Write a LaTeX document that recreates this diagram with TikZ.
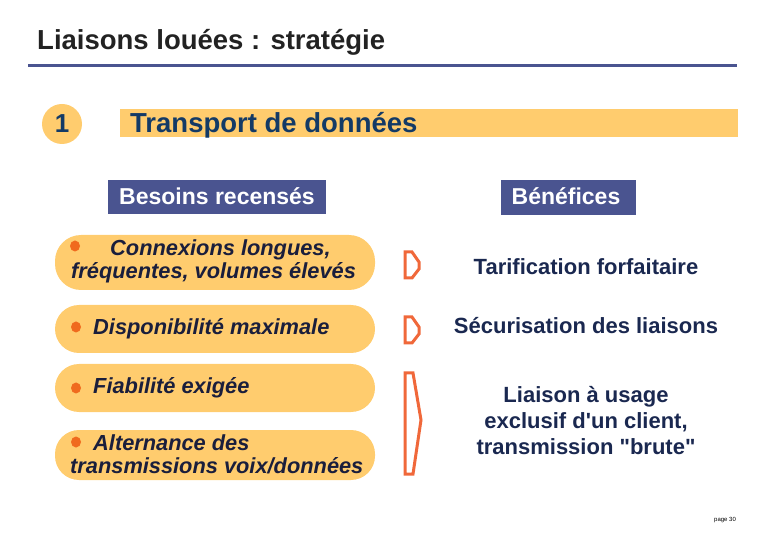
\documentclass[tikz,border=0pt]{standalone}
\usepackage{fontspec}
\setmainfont{Liberation Sans}
\font\qfont="Liberation Sans/B" at 22pt
\newcommand{\sq}{{\qfont\char39}}
\newcommand{\dq}{{\qfont\char34}}
\definecolor{pillc}{HTML}{FFCC6E}
\definecolor{navy}{HTML}{4A5490}
\definecolor{dtext}{HTML}{1A1E3C}
\definecolor{btext}{HTML}{133A66}
\definecolor{dotc}{HTML}{F06A1E}
\definecolor{dshape}{HTML}{F0683A}
\definecolor{titlec}{HTML}{222222}
\definecolor{rtext}{HTML}{1A2850}
\tikzset{
  hdrtext/.style={anchor=base, inner sep=0pt, text=white, font=\fontsize{23}{26}\selectfont\bfseries},
  pilltext/.style={anchor=base west, inner sep=0pt, text=dtext, font=\fontsize{21.8}{24}\selectfont\bfseries\itshape},
  dshp/.style={draw=dshape, line width=3pt, line join=miter},
  righttext/.style={align=center, text=rtext, font=\fontsize{22}{26}\selectfont\bfseries, inner sep=0pt}
}
\begin{document}
\begin{tikzpicture}[x=1pt,y=-1pt]
\useasboundingbox (0,0) rectangle (780,540);
% title
\node[anchor=base west, inner sep=0pt, text=titlec, font=\fontsize{27.5}{30}\selectfont\bfseries] (title) at (37,50) {Liaisons louées : stratégie};
\draw[navy, line width=3pt] (28,66) coordinate (la) -- (737,66) coordinate (lb);
% section 1
\node[circle, fill=pillc, minimum size=40pt, inner sep=0pt, text=btext, font=\fontsize{26}{28}\selectfont\bfseries] (one) at (62,124) {1};
\fill[pillc] (120,109) rectangle (738,137);
\node[anchor=base west, inner sep=0pt, text=btext, font=\fontsize{27.5}{30}\selectfont\bfseries] (sect) at (130,133) {Transport de données};
% headers
\fill[navy] (108,180) rectangle (326,214);
\node[hdrtext] (besoins) at (217,205) {Besoins recensés};
\fill[navy] (501,180) rectangle (636,215);
\node[hdrtext] (benef) at (566,205) {Bénéfices};
% pills
\fill[pillc, rounded corners=26pt] (55,235) rectangle (375,290);
\fill[pillc, rounded corners=24pt] (55,305) rectangle (375,353);
\fill[pillc, rounded corners=24pt] (55,364) rectangle (375,412);
\fill[pillc, rounded corners=24pt] (55,430) rectangle (375,480);
% dots
\fill[dotc] (75,246) ellipse (5pt and 5.5pt);
\fill[dotc] (76,327) ellipse (5pt and 5.5pt);
\fill[dotc] (76,388) ellipse (5pt and 5.5pt);
\fill[dotc] (76,442) ellipse (5pt and 5.5pt);
% pill texts
\node[pilltext] (p1a) at (110,256) {Connexions longues,};
\node[pilltext] (p1b) at (71,279) {fréquentes, volumes élevés};
\node[pilltext] (p2) at (93,335) {Disponibilité maximale};
\node[pilltext] (p3) at (93,394) {Fiabilité exigée};
\node[pilltext] (p4a) at (93,450) {Alternance des};
\node[pilltext] (p4b) at (70,473) {transmissions voix/données};
% D shapes
\draw[dshp] (405,252) -- (412,252) -- (419,262) -- (419,269) -- (412,278) -- (405,278) -- cycle;
\draw[dshp] (405,317) -- (412,317) -- (419,327) -- (419,334) -- (412,343) -- (405,343) -- cycle;
\draw[dshp] (405,373) -- (413,373) -- (421,420) -- (413,474) -- (405,474) -- cycle;
% right texts
\node[righttext, anchor=base] (r1) at (586,275) {Tarification forfaitaire};
\node[righttext, anchor=base] (r2) at (586,334) {Sécurisation des liaisons};
\node[righttext] (r3) at (586,421) {Liaison à usage\\exclusif d\sq un client,\\transmission \dq brute\dq};
% page
\node[anchor=base west, inner sep=0pt, font=\fontsize{6}{7}\selectfont] (page) at (714,521) {page 30};
\end{tikzpicture}
\end{document}
